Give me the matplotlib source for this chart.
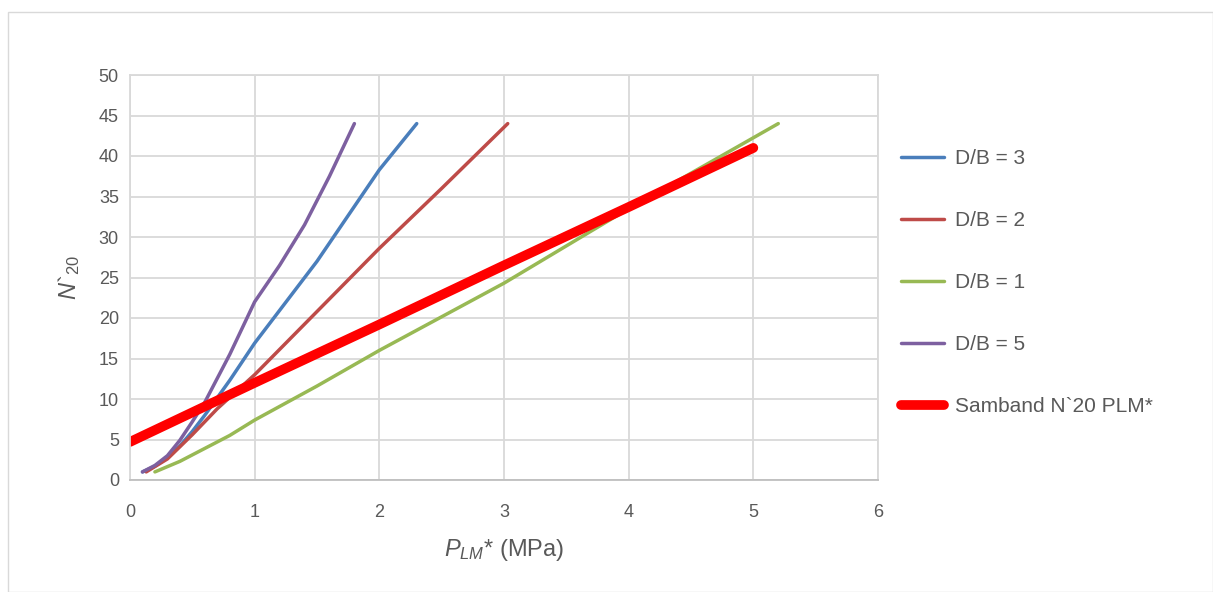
import matplotlib
matplotlib.use('Agg')
import matplotlib.pyplot as plt
from matplotlib.patches import Rectangle

plt.rcParams['font.family'] = ['Liberation Sans', 'DejaVu Sans']
plt.rcParams['mathtext.fontset'] = 'custom'
plt.rcParams['mathtext.rm'] = 'Liberation Sans'
plt.rcParams['mathtext.it'] = 'Liberation Sans:italic'

# D/B = 3
x_db3 = [0.1, 0.2, 0.3, 0.4, 0.5, 0.6, 0.8, 1.0, 1.5, 2.0, 2.3]
y_db3 = [1.0, 1.7, 2.8, 4.2, 6.0, 8.0, 12.3, 16.9, 27.0, 38.3, 44.0]
# D/B = 2
x_db2 = [0.13, 0.3, 0.5, 0.7, 1.0, 1.5, 2.0, 2.5, 3.03]
y_db2 = [1.0, 2.6, 5.6, 8.8, 13.0, 20.8, 28.6, 36.0, 44.0]
# D/B = 1
x_db1 = [0.2, 0.4, 0.6, 0.8, 1.0, 1.5, 2.0, 3.0, 4.0, 5.2]
y_db1 = [1.0, 2.3, 3.9, 5.5, 7.4, 11.6, 16.0, 24.3, 33.5, 44.0]
# D/B = 5
x_db5 = [0.1, 0.2, 0.3, 0.4, 0.5, 0.6, 0.8, 1.0, 1.2, 1.4, 1.6, 1.8]
y_db5 = [1.0, 1.8, 3.0, 4.9, 7.2, 9.6, 15.5, 22.0, 26.5, 31.5, 37.5, 44.0]
# Samband N`20 PLM*
x_sam = [0, 1, 2, 3, 4, 5]
y_sam = [4.7, 12.0, 19.2, 26.5, 33.7, 41.0]

fig = plt.figure(figsize=(12.13, 5.92), dpi=100)
fig.patches.append(Rectangle((8/1213, 0), 1 - 8/1213, 1 - 12/592, transform=fig.transFigure,
                             fill=False, edgecolor='#d9d9d9', linewidth=1))
ax = fig.add_axes([130/1213, 1 - 480/592, 748/1213, 405/592])

lw = 2.5
ax.plot(x_db3, y_db3, color='#4A7EBB', lw=lw, solid_capstyle='round', label='D/B = 3')
ax.plot(x_db2, y_db2, color='#BE4B48', lw=lw, solid_capstyle='round', label='D/B = 2')
ax.plot(x_db1, y_db1, color='#98B954', lw=lw, solid_capstyle='round', label='D/B = 1')
ax.plot(x_db5, y_db5, color='#7D60A0', lw=lw, solid_capstyle='round', label='D/B = 5')
ax.plot(x_sam, y_sam, color='#FF0000', lw=7, solid_capstyle='round', label='Samband N`20 PLM*')

ax.set_xlim(0, 6)
ax.set_ylim(0, 50)
ax.set_xticks(range(0, 7))
ax.set_yticks(range(0, 51, 5))
ax.grid(True, color='#d9d9d9', lw=1.3)
ax.set_axisbelow(True)
for s in ax.spines.values():
    s.set_color('#d9d9d9')
    s.set_linewidth(1.3)
ax.spines['bottom'].set_color('#bfbfbf')
ax.tick_params(length=0, labelsize=13, colors='#595959')
ax.tick_params(axis='x', pad=17)
ax.tick_params(axis='y', pad=8)

ax.set_xlabel(r'$P_{LM}$* (MPa)', fontsize=17, color='#595959', labelpad=12)
ax.set_ylabel(r'$N$`$_{20}$', fontsize=17, color='#595959', labelpad=12)

ax.legend(loc='upper left', bbox_to_anchor=(1.019, 0.838), frameon=False, fontsize=15,
          labelspacing=2.07, handlelength=2.1, handletextpad=0.5, labelcolor='#595959',
          borderaxespad=0)

fig.savefig('out.png', dpi=100)
